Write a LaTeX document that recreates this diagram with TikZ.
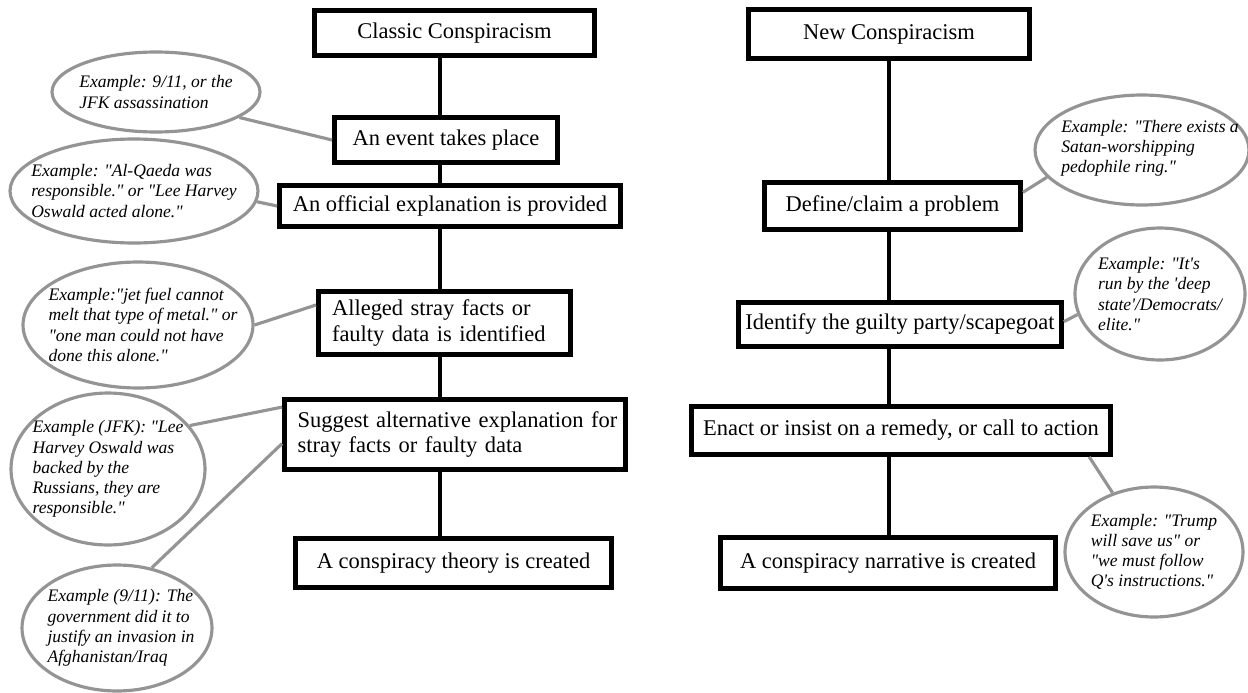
\documentclass[tikz,border=0pt]{standalone}
\usepackage{fontspec}
\setmainfont{Liberation Serif}[Ligatures=TeXOff]
\usetikzlibrary{shapes.geometric}

\tikzset{
    stage/.style={draw, line width=2.8pt, fill=white, inner sep=0pt, align=center,
        font=\fontsize{12.8}{14.6}\selectfont},
    bubble/.style={draw=black!42, line width=1.8pt, ellipse, inner sep=0pt},
    bubtext/.style={align=left, inner sep=0pt, font=\itshape\fontsize{10}{11.5}\selectfont},
    spine/.style={line width=2.6pt},
    link/.style={draw=black!42, line width=1.8pt}
}

\begin{document}
\begin{tikzpicture}[x=0.02cm, y=-0.02cm]

\useasboundingbox (0,0) rectangle (1248,693);

% Spines
\coordinate (spineL) at (440,0);
\coordinate (spineR) at (889,0);

% Classic column
\node[stage, minimum width=5.6cm, minimum height=0.9cm] (classic) at (454.5,33) {Classic Conspiracism};
\node[stage, minimum width=4.46cm, minimum height=0.9cm] (event) at (446,140) {An event takes place};
\node[stage, minimum width=6.82cm, minimum height=0.82cm] (official) at (450,206) {An official explanation is provided};
\node[stage, minimum width=5.04cm, minimum height=1.26cm, text width=4.5cm, align=left] (alleged) at (444.5,323)
    {Alleged stray facts or\\faulty data is identified};
\node[stage, minimum width=6.82cm, minimum height=1.4cm, text width=6.3cm, align=left] (suggest) at (455,434.5)
    {\mbox{Suggest alternative explanation for}\\stray facts or faulty data};
\node[stage, minimum width=6.32cm, minimum height=0.98cm] (theory) at (453.5,563) {A conspiracy theory is created};

% New column
\node[stage, minimum width=5.62cm, minimum height=0.98cm] (new) at (889,34) {New Conspiracism};
\node[stage, minimum width=5.12cm, minimum height=0.94cm] (define) at (892.5,206) {Define/claim a problem};
\node[stage, minimum width=6.46cm, minimum height=0.88cm] (identify) at (900,324.5) {Identify the guilty party/scapegoat};
\node[stage, minimum width=8.38cm, minimum height=0.96cm] (enact) at (901,430.5) {Enact or insist on a remedy, or call to action};
\node[stage, minimum width=6.7cm, minimum height=1.02cm] (narrative) at (888,563) {A conspiracy narrative is created};

\foreach \a/\b in {classic/event, event/official, official/alleged, alleged/suggest, suggest/theory}
    \draw[spine] (\a.south -| spineL) -- (\b.north -| spineL);
\foreach \a/\b in {new/define, define/identify, identify/enact, enact/narrative}
    \draw[spine] (\a.south -| spineR) -- (\b.north -| spineR);

% Examples
\node[bubble, minimum width=4.16cm, minimum height=1.6cm] (ex1) at (156,92) {};
\node[bubtext] (ex1t) at (ex1) {Example: 9/11, or the\\JFK assassination};
\node[bubble, minimum width=4.96cm, minimum height=2.08cm] (ex2) at (134,191) {};
\node[bubtext] (ex2t) at (ex2) {Example: "Al-Qaeda was\\responsible." or "Lee Harvey\\Oswald acted alone."};
\node[bubble, minimum width=4.6cm, minimum height=2.52cm] (ex3) at (138,325) {};
\node[bubtext] (ex3t) at (143,325) {Example:"jet fuel cannot\\melt that type of metal." or\\"one man could not have\\done this alone."};
\node[bubble, minimum width=3.88cm, minimum height=3.04cm] (ex4) at (108,469) {};
\node[bubtext] (ex4t) at (ex4) {Example (JFK): "Lee\\Harvey Oswald was\\backed by the\\Russians, they are\\responsible."};
\node[bubble, minimum width=3.8cm, minimum height=2.52cm] (ex5) at (117,628) {};
\node[bubtext] (ex5t) at (121,628) {Example (9/11): The\\government did it to\\justify an invasion in\\Afghanistan/Iraq};

\node[bubble, minimum width=4.28cm, minimum height=2.2cm] (ex6) at (1142,150) {};
\node[bubtext] (ex6t) at (1150,148) {Example: "There exists a\\Satan-worshipping\\pedophile ring."};
\node[bubble, minimum width=3.4cm, minimum height=2.64cm] (ex7) at (1160,294) {};
\node[bubtext] (ex7t) at (ex7) {Example: "It's\\run by the 'deep\\state'/Democrats/\\elite."};
\node[bubble, minimum width=3.56cm, minimum height=2.6cm] (ex8) at (1154,552) {};
\node[bubtext] (ex8t) at (ex8) {Example: "Trump\\will save us" or\\"we must follow\\Q's instructions."};

% Links
\draw[link] (ex1.-17) -- (event.west);
\draw[link] (ex2.-5) -- (official.west);
\draw[link] (ex3.east) -- (alleged.172);
\draw[link] (ex4.28) -- (suggest.171);
\draw[link] (ex5.60) -- (suggest.183);
\draw[link] (ex6.196) -- (define.6);
\draw[link] (ex7.194) -- (identify.1);
\draw[link] (ex8.125) -- (enact.-8);

\end{tikzpicture}
\end{document}
